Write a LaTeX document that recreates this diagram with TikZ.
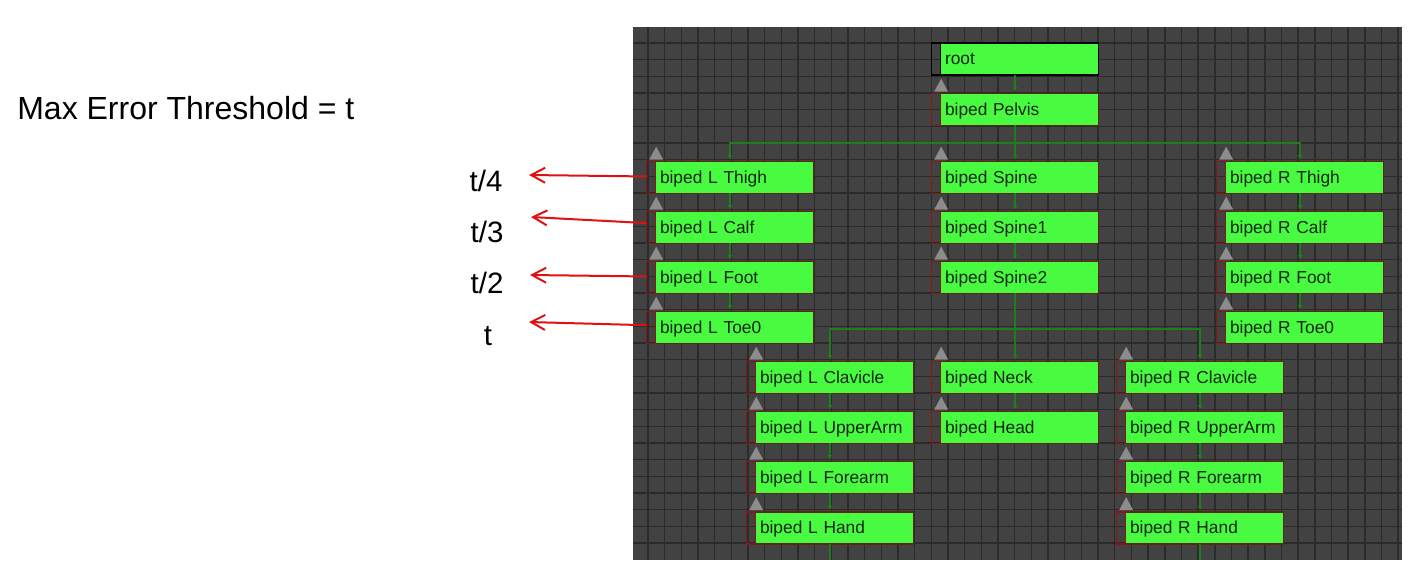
\documentclass[tikz,border=0pt]{standalone}
\usepackage{fontspec}
\setmainfont{Liberation Sans}
\usetikzlibrary{arrows.meta}

\definecolor{canvasgrey}{RGB}{66,66,66}
\definecolor{gridgrey}{RGB}{43,43,43}
\definecolor{bonegreen}{RGB}{72,250,64}
\definecolor{boneedge}{RGB}{92,40,12}
\definecolor{stripred}{RGB}{140,22,22}
\definecolor{linkgreen}{RGB}{30,125,30}
\definecolor{errred}{RGB}{222,18,18}
\definecolor{bonetext}{RGB}{14,38,14}

\tikzset{
  bone/.style={minimum width=99.6pt, minimum height=18.6pt, inner xsep=7.8pt, inner ysep=0pt,
    text width=84pt, align=left, text height=9pt, text depth=2.4pt,
    text=bonetext, font=\fontsize{10.4}{12}\selectfont,
    path picture={\fill[bonegreen] ([xshift=5.4pt]path picture bounding box.south west)
      rectangle (path picture bounding box.north east);}},
  link/.style={draw=linkgreen, line width=0.8pt, -{Latex[length=3pt,width=3pt]}, shorten >=1pt},
  linkplain/.style={draw=linkgreen, line width=0.8pt},
  err/.style={draw=errred, line width=1.2pt, -{Straight Barb[length=8.4pt,width=9pt]}},
  qlabel/.style={inner sep=0pt, anchor=base, font=\fontsize{17.7}{20}\selectfont}
}

% bone box: strip on the left, green body, grey knob above
\def\bone(#1)(#2)#3{%
  \node[bone] (#1) at (#2) {\mbox{#3}};
  \draw[boneedge, line width=0.9pt] ([xshift=5.4pt]#1.south west) rectangle (#1.north east);
  \draw[stripred, line width=0.9pt] (#1.south west) rectangle ([xshift=5.4pt]#1.north west);
  \fill[black!45] ([xshift=1.5pt,yshift=1.2pt]#1.north west) -- ++(8.4pt,0) -- ++(-4.2pt,7.8pt) -- cycle;
}

\begin{document}
\begin{tikzpicture}[x=0.6pt,y=-0.6pt]
  \useasboundingbox (0,0) rectangle (1421,574);

  %%%%% CANVAS %%%%%
  \fill[canvasgrey] (633,27) rectangle (1402,560);
  \foreach \i in {1,...,46}
    \draw[gridgrey, line width=0.9pt] ({631.3+16.67*\i},27) -- ++(0,533);
  \foreach \j in {1,...,31}
    \draw[gridgrey, line width=0.9pt] (633,{26.3+16.67*\j}) -- ++(769,0);

  %%%%% BONES %%%%%
  \node[bone] (root) at (1015,59) {root};
  \draw[black, line width=0.9pt] ([xshift=5.4pt]root.south west) rectangle (root.north east);
  \draw[black, line width=0.9pt] (root.south west) rectangle ([xshift=5.4pt]root.north west);

  \bone(pelvis)(1015,109.5){biped Pelvis};

  \bone(lthigh)(730,177.5){biped L Thigh};
  \bone(lcalf)(730,227.5){biped L Calf};
  \bone(lfoot)(730,277.5){biped L Foot};
  \bone(ltoe)(730,327.5){biped L Toe0};

  \bone(spine)(1015,177.5){biped Spine};
  \bone(spineone)(1015,227.5){biped Spine1};
  \bone(spinetwo)(1015,277.5){biped Spine2};
  \bone(neck)(1015,377.5){biped Neck};
  \bone(head)(1015,427.5){biped Head};

  \bone(rthigh)(1300,177.5){biped R Thigh};
  \bone(rcalf)(1300,227.5){biped R Calf};
  \bone(rfoot)(1300,277.5){biped R Foot};
  \bone(rtoe)(1300,327.5){biped R Toe0};

  \bone(lclav)(830,377.5){biped L Clavicle};
  \bone(lupper)(830,427.5){biped L UpperArm};
  \bone(lfore)(830,477.5){biped L Forearm};
  \bone(lhand)(830,528){biped L Hand};

  \bone(rclav)(1200,377.5){biped R Clavicle};
  \bone(rupper)(1200,427.5){biped R UpperArm};
  \bone(rfore)(1200,477.5){biped R Forearm};
  \bone(rhand)(1200,528){biped R Hand};

  %%%%% LINKS %%%%%
  \coordinate (hip) at (1015,143);
  \coordinate (chest) at (1015,329);
  \coordinate (lhandend) at (830,560);
  \coordinate (rhandend) at (1200,560);

  \draw[linkplain] (pelvis) -- (hip);
  \draw[link] (hip) -| (lthigh);
  \draw[link] (hip) -- (spine);
  \draw[link] (hip) -| (rthigh);

  \draw[linkplain] (spinetwo) -- (chest);
  \draw[link] (chest) -| (lclav);
  \draw[link] (chest) -- (neck);
  \draw[link] (chest) -| (rclav);

  \foreach \a/\b in {root/pelvis, lthigh/lcalf, lcalf/lfoot, lfoot/ltoe,
      spine/spineone, spineone/spinetwo, neck/head,
      rthigh/rcalf, rcalf/rfoot, rfoot/rtoe,
      lclav/lupper, lupper/lfore, lfore/lhand,
      rclav/rupper, rupper/rfore, rfore/rhand}
    \draw[link] (\a) -- (\b);

  \draw[linkplain] (lhand) -- (lhandend);
  \draw[linkplain] (rhand) -- (rhandend);

  %%%%% THRESHOLDS %%%%%
  \node[inner sep=0pt, anchor=base west, font=\fontsize{19.2}{22}\selectfont] (title) at (17,119) {Max Error Threshold = t};

  \node[qlabel] (qfour) at (486,191) {t/4};
  \node[qlabel] (qthree) at (487,242) {t/3};
  \node[qlabel] (qtwo) at (487,293) {t/2};
  \node[qlabel] (qone) at (488,345) {t};

  \coordinate (tipfour) at (529,175);
  \coordinate (tipthree) at (531,217);
  \coordinate (tiptwo) at (530,275);
  \coordinate (tipone) at (529,322);

  \draw[err] (lthigh) -- (tipfour);
  \draw[err] (lcalf) -- (tipthree);
  \draw[err] (lfoot) -- (tiptwo);
  \draw[err] (ltoe) -- (tipone);
\end{tikzpicture}
\end{document}
